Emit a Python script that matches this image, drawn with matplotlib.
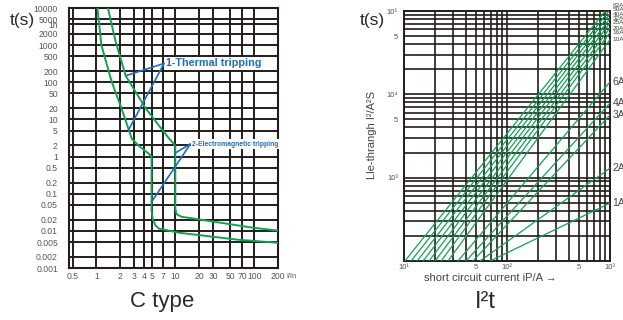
import numpy as np
import matplotlib
matplotlib.use("Agg")
import matplotlib.pyplot as plt
import matplotlib.transforms as mtransforms
from matplotlib.ticker import FixedLocator, FixedFormatter, LogLocator, NullFormatter, NullLocator

plt.rcParams['font.family'] = ['Liberation Sans Narrow', 'Liberation Sans', 'DejaVu Sans']

GRID = '#231c1a'
GREEN = '#12a153'
BLUE = '#1b6ec2'
LABEL = '#555555'
DARK = '#2a2a2a'

# ---------------- C type tripping characteristic ----------------
c_xticks = [0.5, 1, 2, 3, 4, 5, 7, 10, 20, 30, 50, 70, 100, 200]
c_xlabels = ["0.5", "1", "2", "3", "4", "5", "7", "10", "20", "30", "50", "70", "100", "200"]
c_yticks = [10000, 5000, 3600, 2000, 1000, 500, 200, 100, 50, 20, 10, 5, 2, 1,
            0.5, 0.2, 0.1, 0.05, 0.02, 0.01, 0.005, 0.002, 0.001]
c_ylabels = ["10000", "5000", "1h", "2000", "1000", "500", "200", "100", "50", "20", "10",
             "5", "2", "1", "0.5", "0.2", "0.1", "0.05", "0.02", "0.01", "0.005", "0.002", "0.001"]

# upper limit: slow thermal release, magnetic release at 10 x In
upper_i = [1.38, 1.40, 1.75, 2.35, 4.25, 5.4, 8.4, 9.6, 10, 10, 10.4, 12, 95, 250]
upper_t = [20000, 10000, 1270, 150, 19.4, 10, 3.0, 2.2, 1.9, 0.04, 0.028, 0.024, 0.0122, 0.0096]
# lower limit: fast thermal release, magnetic release at 5 x In
lower_i = [1.02, 1.03, 1.16, 1.56, 2.09, 2.81, 3.6, 4.6, 5, 5, 5.2, 5.6, 6.2, 11.2, 61, 250]
lower_t = [20000, 10000, 990, 105, 19.4, 3.0, 1.8, 1.2, 1.0, 0.035, 0.02, 0.014, 0.0115, 0.0089, 0.0058, 0.0046]

# ---------------- let-through energy I2t ----------------
ratings = ["63A", "50A", "40A", "32A", "25A", "20A", "16A", "10A", "6A", "4A", "3A", "2A", "1A"]
start_current = [10.2, 11.7, 13.4, 15.3, 17.5, 20.0, 22.9, 26.7, 33.4, 40.0, 46.7, 54.7, 68.5]  # A, at I2t = 1e2
i2t_at_1ka = [118000, 104000, 92000, 81300, 71800, 62500, 55200, 45500, 14100, 7870, 5650, 1300, 495]
i2t_xticks = [10, 50, 100, 500, 1000]
i2t_xlabels = ["10\u00b9", "5", "10\u00b2", "5", "10\u00b3"]
i2t_yticks = [1000, 5000, 10000, 50000, 100000]
i2t_ylabels = ["10\u00b3", "5", "10\u2074", "5", "10\u2075"]

fig = plt.figure(figsize=(6.23, 3.2), dpi=100)

# ---- left panel ----
ax = fig.add_axes([69 / 623, 52 / 320, 209 / 623, 260 / 320])
ax.set_xscale('log')
ax.set_yscale('log')
ax.set_xlim(0.45, 200)
ax.set_ylim(0.001, 10000)
ax.set_xticks(c_xticks, labels=c_xlabels)
ax.set_yticks(c_yticks, labels=c_ylabels)
ax.xaxis.set_minor_locator(NullLocator())
ax.yaxis.set_minor_locator(NullLocator())
ax.tick_params(length=0, labelsize=6.2, labelcolor=LABEL)
ax.tick_params(axis='y', pad=8)
ax.tick_params(axis='x', pad=3)
ax.grid(True, color=GRID, lw=1.4)
for s in ax.spines.values():
    s.set_color(GRID)
    s.set_linewidth(1.5)

ax.plot(upper_i, upper_t, color=GREEN, lw=1.4, solid_joinstyle='round', zorder=3)
ax.plot(lower_i, lower_t, color=GREEN, lw=1.4, solid_joinstyle='round', zorder=3)


def x_on_curve(cur_i, cur_t, t):
    lt = np.log10(cur_t)[::-1]
    li = np.log10(cur_i)[::-1]
    return 10 ** np.interp(np.log10(t), lt, li)


arrow = dict(arrowstyle='-', color=BLUE, lw=1.2, shrinkA=0, shrinkB=0)
hub1 = (7.2, 322)
for cur_i, cur_t, t in ((upper_i[:8], upper_t[:8], 150), (lower_i[:9], lower_t[:9], 5.3)):
    ax.annotate("", xy=(x_on_curve(cur_i, cur_t, t), t), xytext=hub1, arrowprops=arrow, zorder=4)
ax.text(7.6, 322, "1-Thermal tripping", color=BLUE, fontsize=7.8, fontweight='bold',
        ha='left', va='center', zorder=5,
        bbox=dict(facecolor='white', edgecolor='none', pad=0.8))

hub2 = (15.5, 2.17)
for xy in ((10, 1.25), (5, 0.06)):
    ax.annotate("", xy=xy, xytext=hub2, arrowprops=arrow, zorder=4)
ax.text(16.2, 2.17, "2-Electromagnetic tripping", color=BLUE, fontsize=4.9, fontweight='bold',
        ha='left', va='center', zorder=5,
        bbox=dict(facecolor='white', edgecolor='none', pad=0.8))

fig.text(291 / 623, 1 - 277 / 320, "I/In", fontsize=5.3, color=LABEL, ha='center', va='center')
fig.text(22 / 623, 1 - 20 / 320, "t(s)", fontsize=12.5, color=DARK, ha='center', va='center')
fig.text(162 / 623, 1 - 302 / 320, "C type", fontsize=16, color=DARK, ha='center', va='center')

# ---- right panel ----
ax2 = fig.add_axes([404 / 623, 59 / 320, 206 / 623, 250 / 320])
ax2.set_xscale('log')
ax2.set_yscale('log')
ax2.set_xlim(10, 1000)
ax2.set_ylim(100, 1e5)
ax2.xaxis.set_major_locator(FixedLocator(i2t_xticks))
ax2.xaxis.set_major_formatter(FixedFormatter(i2t_xlabels))
ax2.yaxis.set_major_locator(FixedLocator(i2t_yticks))
ax2.yaxis.set_major_formatter(FixedFormatter(i2t_ylabels))
ax2.xaxis.set_minor_locator(LogLocator(base=10, subs=np.arange(2, 10)))
ax2.yaxis.set_minor_locator(LogLocator(base=10, subs=np.arange(2, 10)))
ax2.xaxis.set_minor_formatter(NullFormatter())
ax2.yaxis.set_minor_formatter(NullFormatter())
ax2.tick_params(which='both', length=0, labelsize=5.5, labelcolor=LABEL)
ax2.tick_params(axis='y', pad=4)
ax2.tick_params(axis='x', pad=2)
ax2.grid(True, which='both', color=GRID, lw=1.2)
for s in ax2.spines.values():
    s.set_color(GRID)
    s.set_linewidth(1.4)

side = mtransforms.blended_transform_factory(ax2.transAxes, ax2.transData)
for name, i0, e in zip(ratings, start_current, i2t_at_1ka):
    ax2.plot([i0, 1000], [100, e], color=GREEN, lw=0.9, zorder=3)
    ax2.text(1.012, e, name, transform=side, fontsize=4.6 if e > 30000 else 7.5,
             color='#444444', ha='left', va='center', clip_on=False)

fig.text(372 / 623, 1 - 20 / 320, "t(s)", fontsize=12.5, color=DARK, ha='center', va='center')
fig.text(372 / 623, 1 - 135 / 320, "Lle-thrangh I\u00b2/A\u00b2S", fontsize=8, color='#444444',
         rotation=90, ha='center', va='center')
fig.text(490 / 623, 1 - 278 / 320, "short circuit current iP/A \u2192", fontsize=8, color='#444444',
         ha='center', va='center')
fig.text(485 / 623, 1 - 302 / 320, "I\u00b2t", fontsize=17, color=DARK, ha='center', va='center')

fig.savefig("out.png", dpi=100)
